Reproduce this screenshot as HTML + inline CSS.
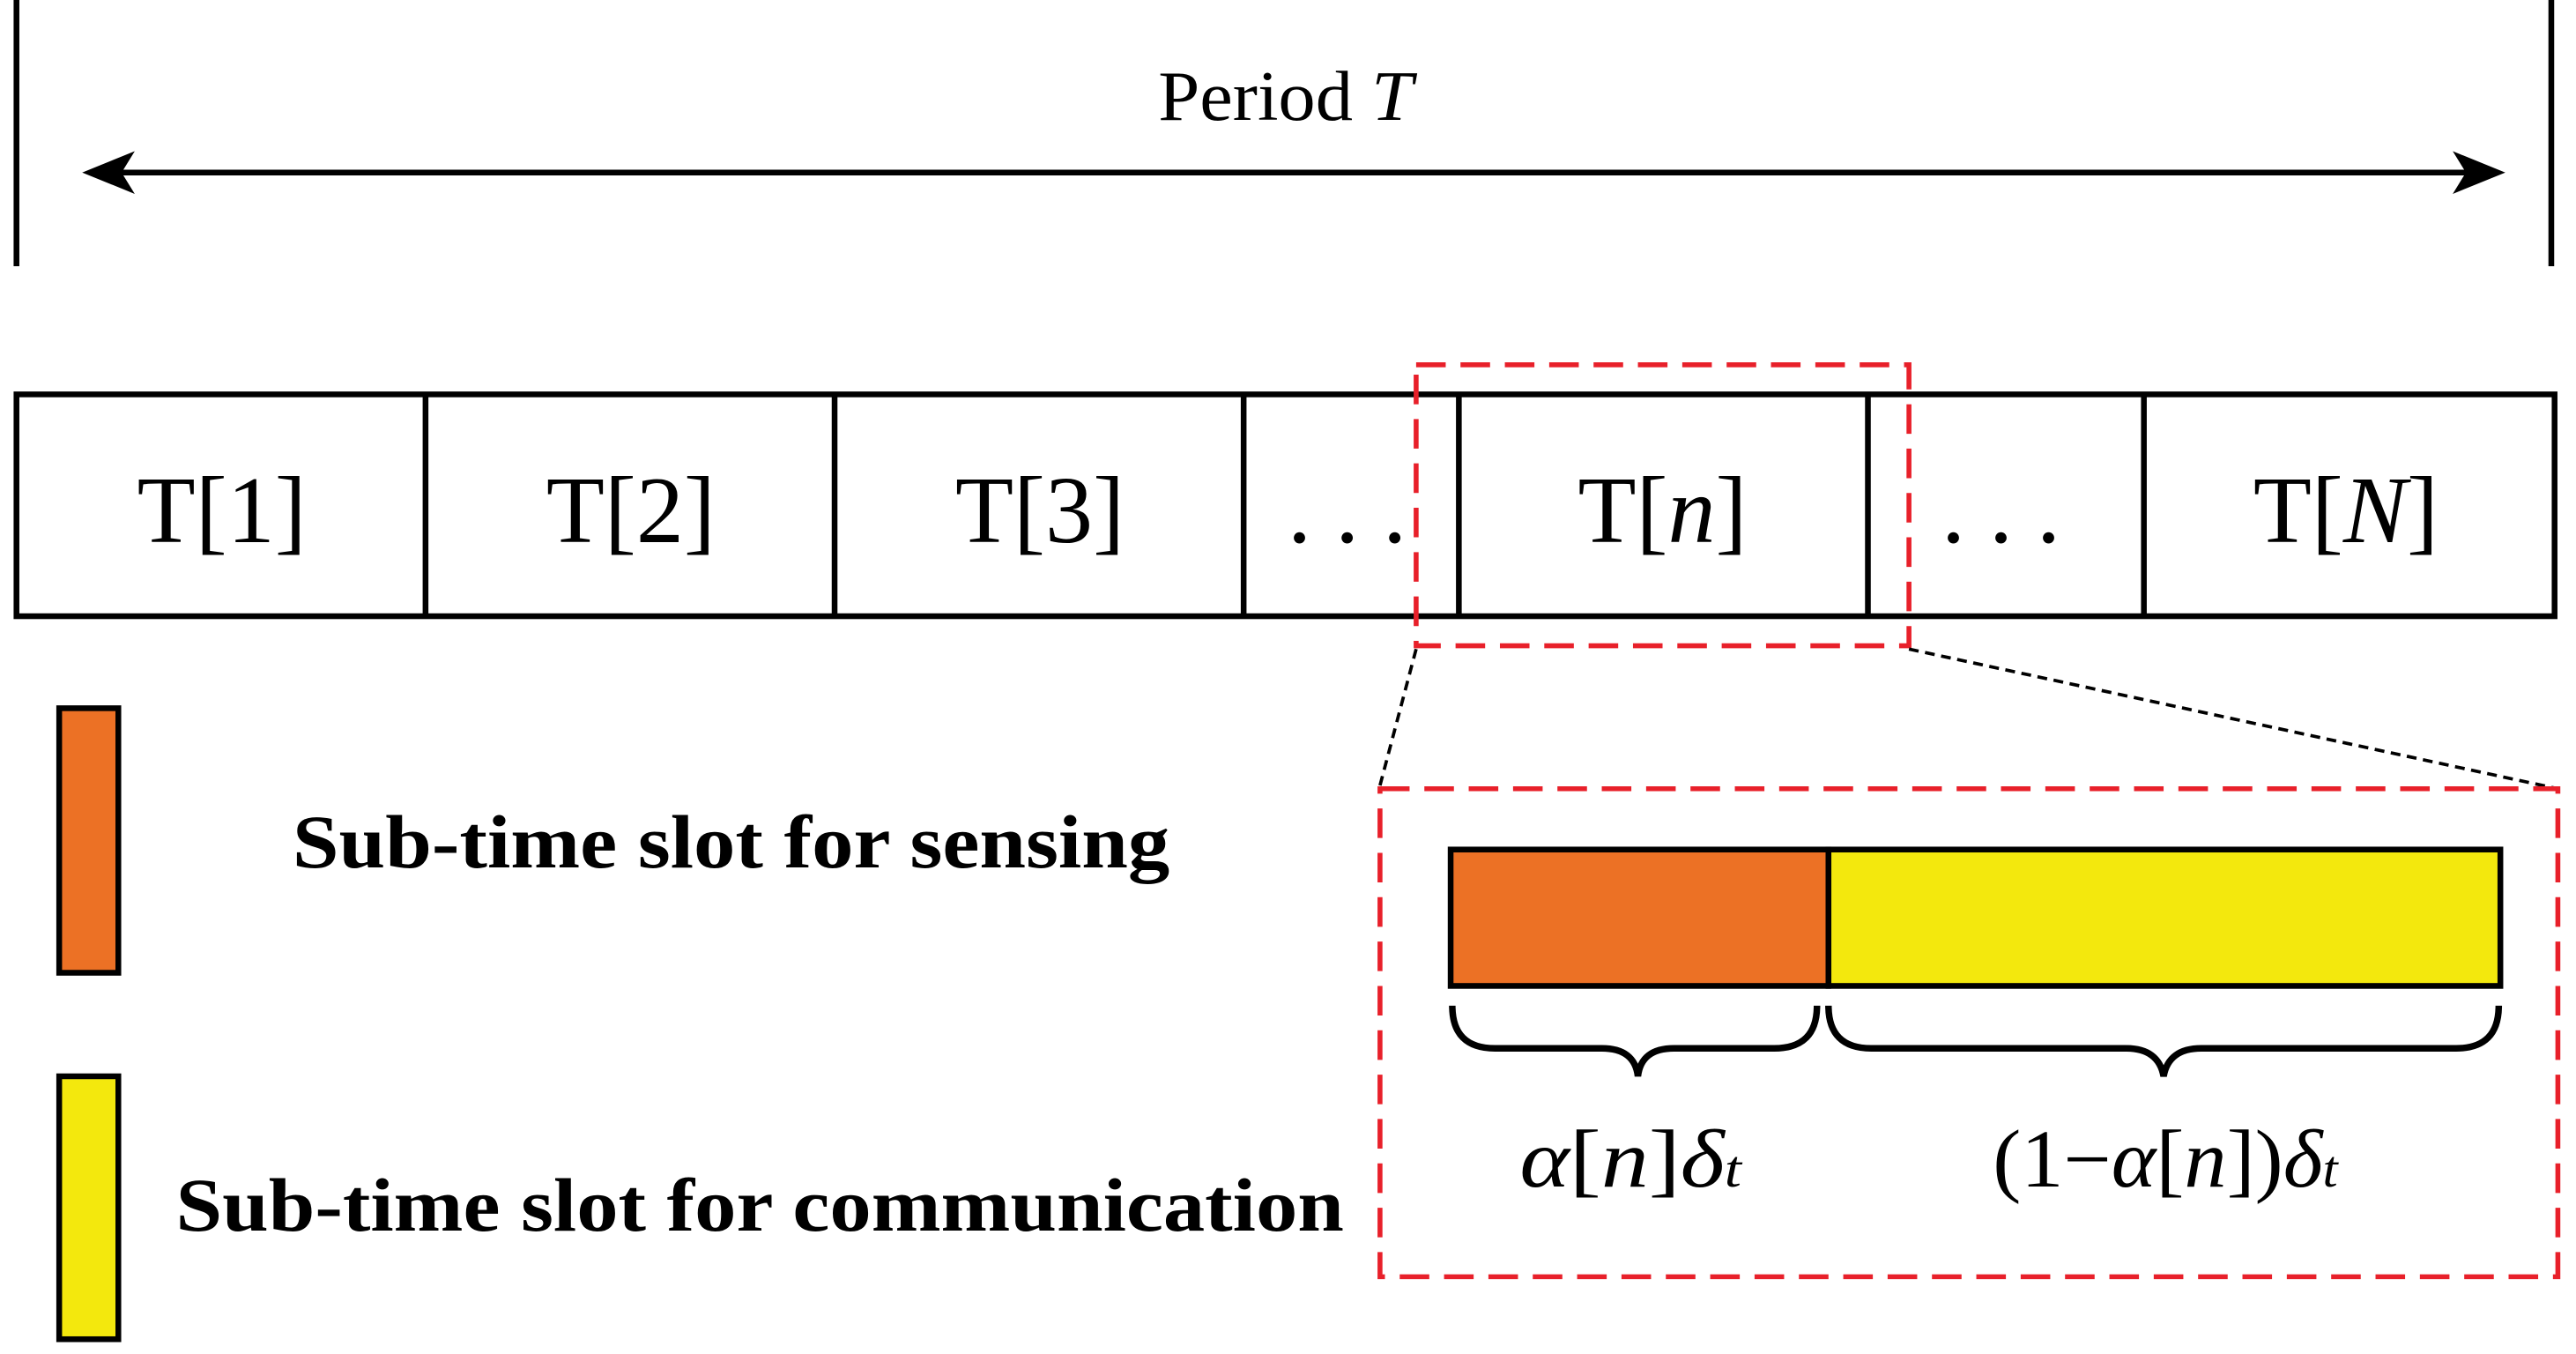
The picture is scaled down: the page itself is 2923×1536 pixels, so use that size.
<!DOCTYPE html>
<html><head><meta charset="utf-8"><style>html,body{margin:0;padding:0;background:#fff}svg{display:block}</style></head>
<body>
<svg width="2923" height="1536" viewBox="0 0 1568 824" xmlns="http://www.w3.org/2000/svg" font-family="Liberation Serif, serif">
<rect width="1568" height="824" fill="#fff"/>
<line x1="10" y1="0" x2="10" y2="162" stroke="#000" stroke-width="3.5"/>
<line x1="1553" y1="0" x2="1553" y2="162" stroke="#000" stroke-width="3.5"/>
<line x1="70" y1="105" x2="1505" y2="105" stroke="#000" stroke-width="3.5"/>
<polygon points="50,105 82,92 74,105 82,118" fill="#000"/>
<polygon points="1525,105 1493,92 1501,105 1493,118" fill="#000"/>
<text x="705" y="73" font-size="43" textLength="155" lengthAdjust="spacingAndGlyphs">Period <tspan font-style="italic">T</tspan></text>
<rect x="10" y="240" width="1545" height="135" fill="none" stroke="#000" stroke-width="3.5"/>
<g stroke="#000" stroke-width="3.5">
<line x1="259" y1="240" x2="259" y2="375"/><line x1="508" y1="240" x2="508" y2="375"/>
<line x1="757" y1="240" x2="757" y2="375"/><line x1="888" y1="240" x2="888" y2="375"/>
<line x1="1137" y1="240" x2="1137" y2="375"/><line x1="1305" y1="240" x2="1305" y2="375"/>
</g>
<g font-size="58" text-anchor="middle">
<text x="135" y="330">T[1]</text><text x="384" y="330">T[2]</text><text x="633" y="330">T[3]</text>
<text x="820" y="330">. . .</text><text x="1012" y="330">T[<tspan font-style="italic">n</tspan>]</text>
<text x="1218" y="330">. . .</text><text x="1428" y="330">T[<tspan font-style="italic">N</tspan>]</text>
</g>
<rect x="862" y="222" width="300" height="171" fill="none" stroke="#e8202a" stroke-width="3" stroke-dasharray="18,9"/>
<line x1="862" y1="395" x2="840" y2="478" stroke="#000" stroke-width="2" stroke-dasharray="6,4"/>
<line x1="1162" y1="395" x2="1557" y2="480" stroke="#000" stroke-width="2" stroke-dasharray="6,4"/>
<rect x="840" y="480" width="717" height="297" fill="none" stroke="#e8202a" stroke-width="3" stroke-dasharray="18,9"/>
<rect x="883" y="517" width="230" height="83" fill="#ec7125" stroke="#000" stroke-width="3.5"/>
<rect x="1113" y="517" width="409" height="83" fill="#f3e80d" stroke="#000" stroke-width="3.5"/>
<path d="M884,612 Q884,638 910,638 L975,638 Q995,638 997,655 Q999,638 1019,638 L1080,638 Q1106,638 1106,612" fill="none" stroke="#000" stroke-width="4"/>
<path d="M1113,612 Q1113,638 1139,638 L1294,638 Q1314,638 1317,655 Q1320,638 1340,638 L1495,638 Q1521,638 1521,612" fill="none" stroke="#000" stroke-width="4"/>
<text x="925" y="722" font-size="50" font-style="italic" textLength="135" lengthAdjust="spacingAndGlyphs">α<tspan font-style="normal">[</tspan>n<tspan font-style="normal">]</tspan>δ<tspan font-size="32">t</tspan></text>
<text x="1213" y="722" font-size="50" textLength="210" lengthAdjust="spacingAndGlyphs"><tspan>(1−</tspan><tspan font-style="italic">α</tspan>[<tspan font-style="italic">n</tspan>])<tspan font-style="italic">δ</tspan><tspan font-style="italic" font-size="32">t</tspan></text>
<rect x="36" y="431" width="36" height="161" fill="#ec7125" stroke="#000" stroke-width="3.5"/>
<rect x="36" y="655" width="36" height="160" fill="#f3e80d" stroke="#000" stroke-width="3.5"/>
<text x="178" y="528" font-size="46" font-weight="bold" textLength="534" lengthAdjust="spacingAndGlyphs">Sub-time slot for sensing</text>
<text x="107" y="749" font-size="46" font-weight="bold" textLength="711" lengthAdjust="spacingAndGlyphs">Sub-time slot for communication</text>
</svg>
</body></html>
